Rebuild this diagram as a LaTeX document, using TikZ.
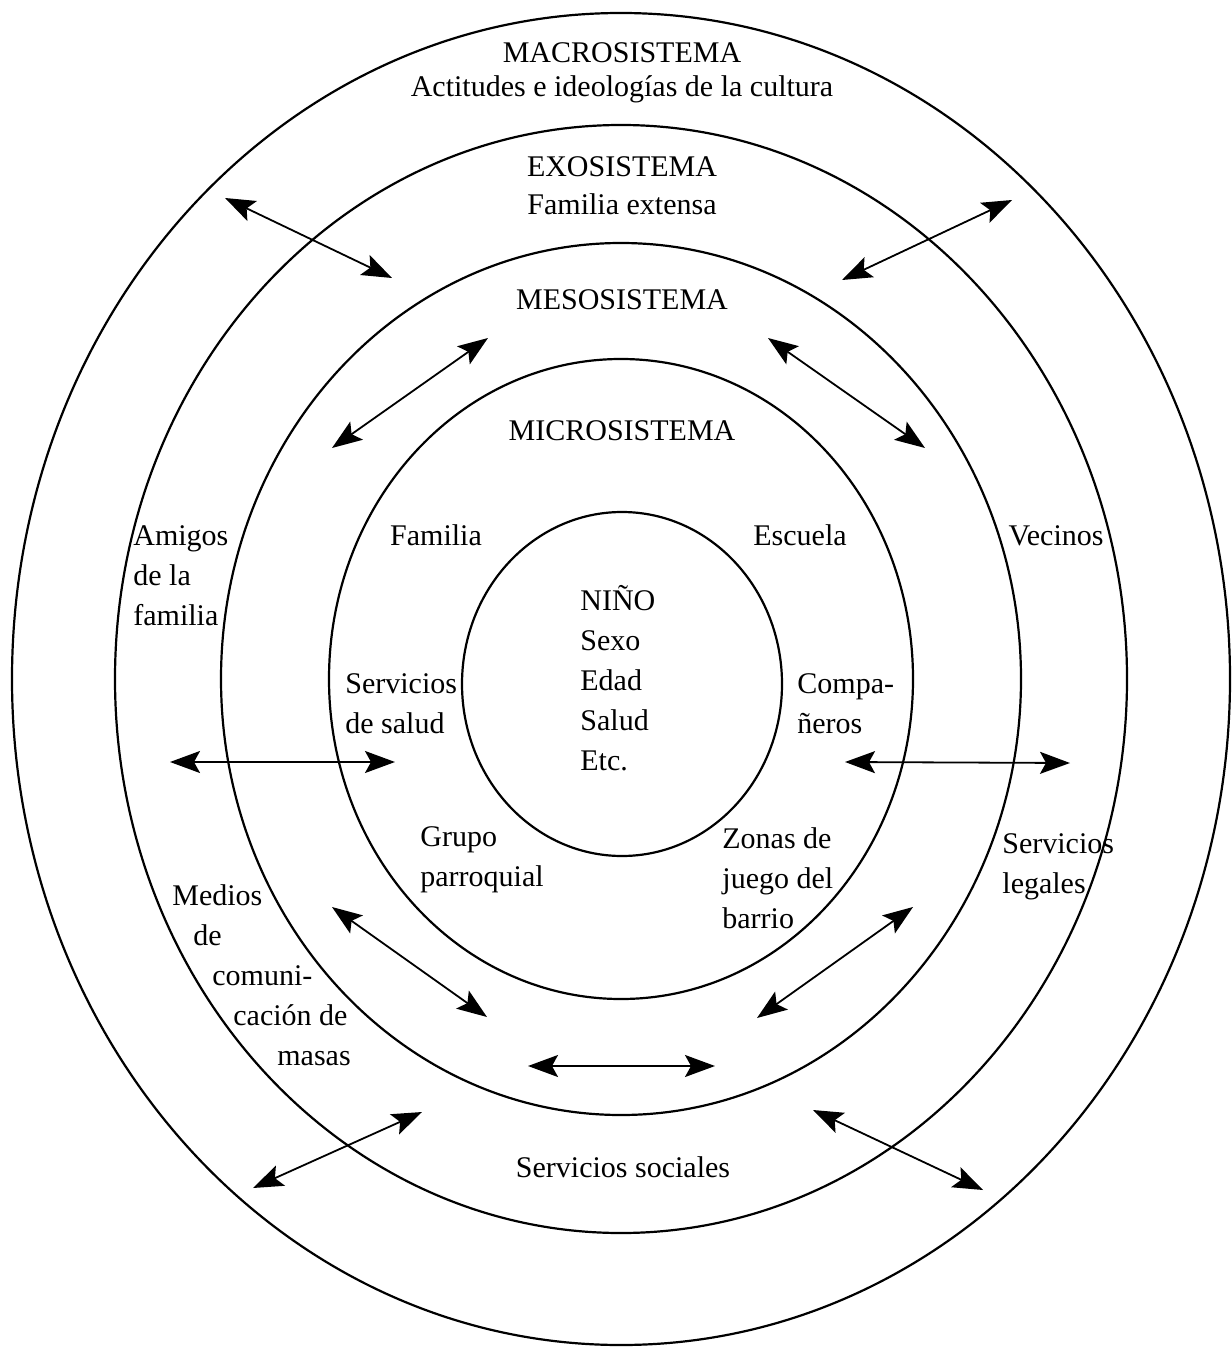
\documentclass[tikz,border=0pt]{standalone}
\usepackage{fontspec}
\setmainfont{Liberation Serif}
\usetikzlibrary{arrows.meta}

\begin{document}
\begin{tikzpicture}[x=0.5pt, y=-0.5pt,
    ring/.style={line width=1.1pt},
    twoway/.style={{Stealth[length=15pt,width=11pt,inset=3pt]}-{Stealth[length=15pt,width=11pt,inset=3pt]}, line width=0.9pt},
    lbl/.style={font=\fontsize{15}{20}\selectfont, inner sep=0pt, align=left}]
    \useasboundingbox (0,0) rectangle (1231,1347);
    \coordinate (c) at (621,679);

    % the five systems
    \draw[ring] (c) ellipse [x radius=609, y radius=666];
    \draw[ring] (c) ellipse [x radius=506, y radius=554];
    \draw[ring] (c) ellipse [x radius=400, y radius=436];
    \draw[ring] (c) ellipse [x radius=292, y radius=320];
    \draw[ring] (622,684) ellipse [x radius=160, y radius=172];

    % level titles
    \node[lbl, anchor=base] (macro) at (622,63) {MACROSISTEMA};
    \node[lbl, anchor=base] (cultura) at (622,97) {Actitudes e ideologías de la cultura};
    \node[lbl, anchor=base] (exo) at (622,177) {EXOSISTEMA};
    \node[lbl, anchor=base] (extensa) at (622,215) {Familia extensa};
    \node[lbl, anchor=base] (meso) at (622,310) {MESOSISTEMA};
    \node[lbl, anchor=base] (micro) at (622,440) {MICROSISTEMA};

    % settings (base = last line)
    \node[lbl, anchor=base west] (amigos) at (133,625) {Amigos\\de la\\familia};
    \node[lbl, anchor=base] (familia) at (436,545) {Familia};
    \node[lbl, anchor=base] (escuela) at (800,545) {Escuela};
    \node[lbl, anchor=base] (vecinos) at (1056,545) {Vecinos};
    \node[lbl, anchor=base west] (nino) at (580,770) {NIÑO\\Sexo\\Edad\\Salud\\Etc.};
    \node[lbl, anchor=base west] (salud) at (345,733) {Servicios\\de salud};
    \node[lbl, anchor=base west] (companeros) at (797,733) {Compa-\\ñeros};
    \node[lbl, anchor=base west] (grupo) at (420,886) {Grupo\\parroquial};
    \node[lbl, anchor=base west] (zonas) at (722,928) {Zonas de\\juego del\\barrio};
    \node[lbl, anchor=base west] (legales) at (1002,893) {Servicios\\legales};
    \node[lbl, anchor=base west] (medios) at (172,1065)
        {Medios\\\hspace*{10.5pt}de\\\hspace*{20pt}comuni-\\\hspace*{30.5pt}cación de\\\hspace*{52.5pt}masas};
    \node[lbl, anchor=base] (sociales) at (623,1177) {Servicios sociales};

    % arrow ends
    \coordinate (nwo1) at (225,198);  \coordinate (nwo2) at (392,278);
    \coordinate (nwi1) at (488,338);  \coordinate (nwi2) at (332,448);
    \coordinate (neo1) at (1012,200); \coordinate (neo2) at (842,280);
    \coordinate (nei1) at (768,338);  \coordinate (nei2) at (925,448);
    \coordinate (w1) at (170,762);    \coordinate (w2) at (395,762);
    \coordinate (e1) at (845,762);    \coordinate (e2) at (1070,763);
    \coordinate (swi1) at (332,907);  \coordinate (swi2) at (487,1017);
    \coordinate (sei1) at (913,907);  \coordinate (sei2) at (757,1018);
    \coordinate (s1) at (528,1066);   \coordinate (s2) at (715,1066);
    \coordinate (swo1) at (422,1112); \coordinate (swo2) at (253,1188);
    \coordinate (seo1) at (813,1110); \coordinate (seo2) at (983,1190);

    \draw[twoway] (nwo1) -- (nwo2);
    \draw[twoway] (nwi1) -- (nwi2);
    \draw[twoway] (neo1) -- (neo2);
    \draw[twoway] (nei1) -- (nei2);
    \draw[twoway] (w1) -- (w2);
    \draw[twoway] (e1) -- (e2);
    \draw[twoway] (swi1) -- (swi2);
    \draw[twoway] (sei1) -- (sei2);
    \draw[twoway] (s1) -- (s2);
    \draw[twoway] (swo1) -- (swo2);
    \draw[twoway] (seo1) -- (seo2);
\end{tikzpicture}
\end{document}
